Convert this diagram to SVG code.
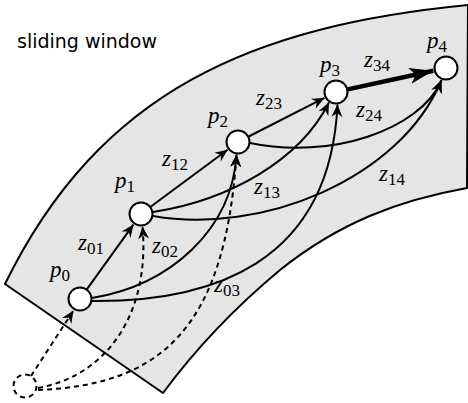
<svg xmlns="http://www.w3.org/2000/svg" width="468" height="403" viewBox="0 0 468 403">
<style>
.band{fill:#e5e5e5;stroke:#000;stroke-width:2;stroke-linejoin:round}
.node{fill:#fff;stroke:#000;stroke-width:2}
.ghost{fill:none;stroke:#000;stroke-width:2;stroke-dasharray:5,4}
.e{fill:none;stroke:#000;stroke-width:2;marker-end:url(#ah)}
.d{fill:none;stroke:#000;stroke-width:2;stroke-dasharray:5,4;marker-end:url(#ah)}
.thick{fill:none;stroke:#000;stroke-width:4.5;marker-end:url(#big)}
.m{font-family:"Liberation Serif",serif;font-style:italic;font-size:23px;fill:#000}
.s{font-style:normal;font-size:17px}
.t{font-family:"DejaVu Sans",sans-serif;font-size:19px;fill:#000}
</style>
<defs>
<marker id="ah" markerUnits="userSpaceOnUse" markerWidth="16" markerHeight="12" refX="13" refY="6" orient="auto" overflow="visible">
<path d="M13,6 L0.5,0.5 L4.5,6 L0.5,11.5 Z" fill="#000"/>
</marker>
<marker id="big" markerUnits="userSpaceOnUse" markerWidth="26" markerHeight="18" refX="24" refY="9" orient="auto" overflow="visible">
<path d="M24,9 L0,1 L6,9 L0,17 Z" fill="#000"/>
</marker>
</defs>
<path class="band" d="M5,284 C100,90 253,26 468,5 L467,188 C400,200 340,222 280,270 C220,320 180,370 163,393 Z"/>
<text class="t" x="17" y="48">sliding window</text>
<g id="connectors">
<path class="d" d="M31,376 L73.5,310.5"/>
<path class="d" d="M38,388 C110,375 150,310 142.5,226.5"/>
<path class="d" d="M38,390 C160,385 225,330 236.5,154.5"/>
<path class="e" d="M87,289.2 L133.4,224.6"/>
<path class="e" d="M92,298 C170,285 232,230 236.5,154.5"/>
<path class="e" d="M92,301 C210,302 330,265 337.5,104.5"/>
<path class="e" d="M150.6,206.8 L227.6,149.7"/>
<path class="e" d="M153,212 C230,200 300,160 329,102.5"/>
<path class="e" d="M153,216 C260,235 400,180 441.5,80"/>
<path class="e" d="M248.7,136.5 L324.4,97.9"/>
<path class="e" d="M250,143 C330,160 420,130 441.5,80.5"/>
<path class="thick" d="M347.7,89.4 L433.3,70.8"/>
</g>
<g id="q"><circle class="ghost" cx="25" cy="386" r="11.5"/></g>
<g id="p0"><circle class="node" cx="80" cy="299" r="11.5"/><text class="m" x="50" y="277">p<tspan class="s" dy="4">0</tspan></text></g>
<g id="p1"><circle class="node" cx="141" cy="214" r="11.5"/><text class="m" x="115" y="188">p<tspan class="s" dy="4">1</tspan></text></g>
<g id="p2"><circle class="node" cx="238" cy="142" r="11.5"/><text class="m" x="208" y="123">p<tspan class="s" dy="4">2</tspan></text></g>
<g id="p3"><circle class="node" cx="336" cy="92" r="11.5"/><text class="m" x="320" y="72">p<tspan class="s" dy="4">3</tspan></text></g>
<g id="p4"><circle class="node" cx="446" cy="68" r="11.5"/><text class="m" x="427" y="48">p<tspan class="s" dy="4">4</tspan></text></g>
<g id="labels">
<text class="m" x="78" y="250">z<tspan class="s" dy="4">01</tspan></text>
<text class="m" x="152" y="253">z<tspan class="s" dy="4">02</tspan></text>
<text class="m" x="214" y="292">z<tspan class="s" dy="4">03</tspan></text>
<text class="m" x="162" y="166">z<tspan class="s" dy="4">12</tspan></text>
<text class="m" x="254" y="194">z<tspan class="s" dy="4">13</tspan></text>
<text class="m" x="379" y="181">z<tspan class="s" dy="4">14</tspan></text>
<text class="m" x="256" y="105">z<tspan class="s" dy="4">23</tspan></text>
<text class="m" x="356" y="117">z<tspan class="s" dy="4">24</tspan></text>
<text class="m" x="364" y="67">z<tspan class="s" dy="4">34</tspan></text>
</g>
</svg>
